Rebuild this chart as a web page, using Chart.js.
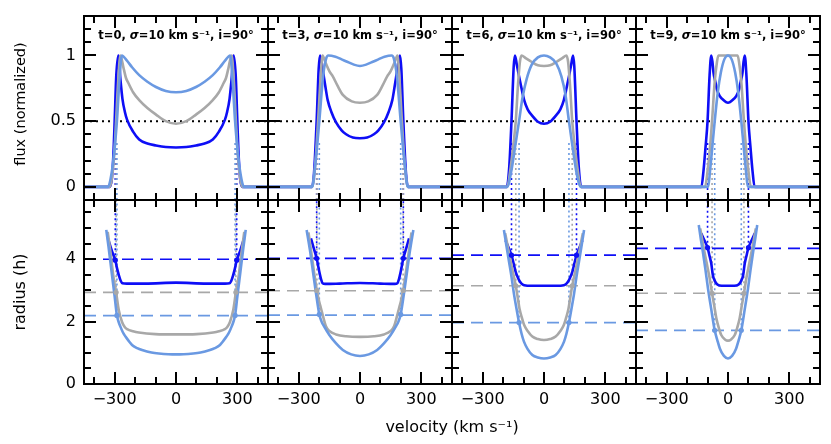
<!DOCTYPE html>
<html><head><meta charset="utf-8">
<script src="https://cdn.jsdelivr.net/npm/chart.js@4.4.1/dist/chart.umd.min.js"></script>
<style>
html,body{margin:0;padding:0;background:#fff;}
#wrap{position:relative;width:831px;height:444px;overflow:hidden;background:#fff;}
#wrap canvas{position:absolute;left:0;top:0;}
</style></head><body><div id="wrap">
<canvas id="c0" width="831" height="444"></canvas>
<canvas id="c1" width="831" height="444"></canvas>
<canvas id="c2" width="831" height="444"></canvas>
<canvas id="c3" width="831" height="444"></canvas>
<canvas id="c4" width="831" height="444"></canvas>
<canvas id="c5" width="831" height="444"></canvas>
<canvas id="c6" width="831" height="444"></canvas>
<canvas id="c7" width="831" height="444"></canvas>
</div>
<script>
// ---------- panel parameters ----------
const times = [0, 3, 6, 9];
const sigma = 10;
const incl = 90;

// ---------- axis ticks ----------
const xMajorTicks = [-300, 0, 300];
const xMinorTicks = [-400, -200, -100, 100, 200, 400];
const fluxMajorTicks = [0, 0.5, 1];
const fluxMinorTicks = [0.1, 0.2, 0.3, 0.4, 0.6, 0.7, 0.8, 0.9, 1.1, 1.2];
const radMajorTicks = [0, 2, 4];
const radMinorTicks = [0.5, 1, 1.5, 2.5, 3, 3.5, 4.5, 5, 5.5];
const xTickLabels = [-300, 0, 300];
const fluxTickLabels = [0, 0.5, 1];
const radTickLabels = [0, 2, 4];
const halfMax = 0.5;

// ---------- t=0 ----------
const fluxV_t0_blue = [-450,-324,-314,-306,-300,-292,-282,-272,-262,-250,-239,-210,-180,-140,-98,-50,0,50,98,140,180,210,239,250,262,272,282,292,300,306,314,324,450];
const flux_t0_blue  = [0,0,0.06,0.25,0.5,0.85,1,0.82,0.67,0.57,0.51,0.42,0.36,0.33,0.315,0.303,0.3,0.303,0.315,0.33,0.36,0.42,0.51,0.57,0.67,0.82,1,0.85,0.5,0.25,0.06,0,0];
const fluxV_t0_gray = [-450,-326,-314,-302,-293,-283,-272,-256,-245,-233,-210,-180,-140,-98,-50,0,50,98,140,180,210,233,245,256,272,283,293,302,314,326,450];
const flux_t0_gray  = [0,0,0.06,0.25,0.5,0.8,1,0.9,0.83,0.79,0.72,0.66,0.6,0.55,0.5,0.48,0.5,0.55,0.6,0.66,0.72,0.79,0.83,0.9,1,0.8,0.5,0.25,0.06,0,0];
const fluxV_t0_light = [-450,-332,-320,-305,-289,-277,-265,-240,-215,-180,-140,-98,-50,0,50,98,140,180,215,240,265,277,289,305,320,332,450];
const flux_t0_light  = [0,0,0.06,0.22,0.5,0.8,1,0.96,0.91,0.85,0.8,0.76,0.73,0.72,0.73,0.76,0.8,0.85,0.91,0.96,1,0.8,0.5,0.22,0.06,0,0];
const radV_t0_blue = [-333,-320,-310,-297,-288,-280,-270,-262,-240,-150,0,150,240,262,270,280,288,297,310,320,333];
const rad_t0_blue  = [4.67,4.4,4.2,3.97,3.7,3.5,3.3,3.23,3.22,3.22,3.25,3.22,3.22,3.23,3.3,3.5,3.7,3.97,4.2,4.4,4.67];
const radV_t0_gray = [-334,-320,-305,-293,-280,-264,-250,-239,-210,-182,-101,0,101,182,210,239,250,264,280,293,305,320,334];
const rad_t0_gray  = [4.88,4.2,3.4,2.94,2.37,1.99,1.82,1.76,1.69,1.65,1.6,1.59,1.6,1.65,1.69,1.76,1.82,1.99,2.37,2.94,3.4,4.2,4.88];
const radV_t0_light = [-341,-330,-315,-300,-289,-280,-272,-260,-247,-230,-215,-190,-166,-120,-84,0,84,120,166,190,215,230,247,260,272,280,289,300,315,330,341];
const rad_t0_light  = [4.94,4.4,3.6,2.8,2.2,1.98,1.84,1.66,1.52,1.37,1.25,1.15,1.09,1.01,0.98,0.95,0.98,1.01,1.09,1.15,1.25,1.37,1.52,1.66,1.84,1.98,2.2,2.8,3.6,4.4,4.94];
const halfV_t0 = [297, 293, 289];      // blue, gray, light
const halfR_t0 = [3.97, 2.94, 2.2];
const ringR_t0 = [4.0, 2.94, 2.19];

// ---------- t=3 ----------
const fluxV_t3_blue = [-450,-235,-225,-212,-202,-196,-188,-180,-168,-158,-140,-117,-90,-68,-35,0,35,68,90,117,140,158,168,180,188,196,202,212,225,235,450];
const flux_t3_blue  = [0,0,0.1,0.5,0.9,1,0.95,0.87,0.75,0.66,0.57,0.49,0.43,0.4,0.375,0.37,0.375,0.4,0.43,0.49,0.57,0.66,0.75,0.87,0.95,1,0.9,0.5,0.1,0,0];
const fluxV_t3_gray = [-450,-234,-220,-205,-192,-183,-170,-150,-133,-110,-84,-40,0,40,84,110,133,150,170,183,192,205,220,234,450];
const flux_t3_gray  = [0,0,0.15,0.5,0.85,1,0.95,0.88,0.84,0.77,0.7,0.65,0.64,0.65,0.7,0.77,0.84,0.88,0.95,1,0.85,0.5,0.15,0,0];
const fluxV_t3_light = [-450,-234,-220,-199,-180,-165,-155,-120,-90,-60,-30,0,30,60,90,120,155,165,180,199,220,234,450];
const flux_t3_light  = [0,0,0.15,0.5,0.85,0.98,1,0.99,0.97,0.95,0.93,0.92,0.93,0.95,0.97,0.99,1,0.98,0.85,0.5,0.15,0,0];
const radV_t3_blue = [-240,-226,-212,-199,-190,-183,-170,-100,0,100,170,183,190,199,212,226,240];
const rad_t3_blue  = [4.67,4.35,4.03,3.6,3.35,3.23,3.21,3.22,3.24,3.22,3.21,3.23,3.35,3.6,4.03,4.35,4.67];
const radV_t3_gray = [-252,-240,-225,-211,-200,-191,-180,-166,-150,-117,-68,0,68,117,150,166,180,191,200,211,225,240,252];
const rad_t3_gray  = [4.86,4.3,3.6,3.0,2.65,2.43,2.15,1.84,1.7,1.59,1.53,1.51,1.53,1.59,1.7,1.84,2.15,2.43,2.65,3.0,3.6,4.3,4.86];
const radV_t3_light = [-261,-245,-230,-215,-199,-188,-175,-150,-117,-84,-43,0,43,84,117,150,175,188,199,215,230,245,261];
const rad_t3_light  = [4.94,4.3,3.6,2.9,2.23,2.0,1.84,1.57,1.3,1.09,0.95,0.9,0.95,1.09,1.3,1.57,1.84,2.0,2.23,2.9,3.6,4.3,4.94];
const halfV_t3 = [212, 211, 199];
const halfR_t3 = [4.03, 3.0, 2.23];
const ringR_t3 = [4.03, 2.99, 2.21];

// ---------- t=6 ----------
const fluxV_t6_blue = [-450,-182,-170,-159,-148,-142,-133,-122,-110,-97,-80,-57,-30,0,30,57,80,97,110,122,133,142,148,159,170,182,450];
const flux_t6_blue  = [0,0,0.15,0.5,0.92,1,0.93,0.84,0.75,0.66,0.59,0.54,0.495,0.48,0.495,0.54,0.59,0.66,0.75,0.84,0.93,1,0.92,0.5,0.15,0,0];
const fluxV_t6_gray = [-450,-180,-163,-149,-138,-127,-118,-110,-90,-60,-30,0,30,60,90,110,118,127,138,149,163,180,450];
const flux_t6_gray  = [0,0,0.15,0.33,0.5,0.78,0.95,1,0.98,0.95,0.925,0.92,0.925,0.95,0.98,1,0.95,0.78,0.5,0.33,0.15,0,0];
const fluxV_t6_light = [-450,-180,-160,-140,-122,-105,-85,-60,-30,0,30,60,85,105,122,140,160,180,450];
const flux_t6_light  = [0,0,0.12,0.32,0.5,0.68,0.82,0.93,0.985,1,0.985,0.94,0.84,0.7,0.5,0.3,0.1,0,0];
const radV_t6_blue = [-188,-175,-159,-148,-139,-130,-122,-110,-97,-60,0,60,97,110,122,130,139,148,159,175,188];
const rad_t6_blue  = [4.61,4.4,4.13,3.85,3.6,3.45,3.33,3.22,3.17,3.15,3.15,3.15,3.17,3.22,3.33,3.45,3.6,3.85,4.13,4.4,4.61];
const radV_t6_gray = [-190,-174,-156,-138,-128,-120,-108,-97,-80,-57,-30,0,30,57,80,97,108,120,128,138,156,174,190];
const rad_t6_gray  = [4.83,4.3,3.7,3.15,2.75,2.42,2.12,1.89,1.7,1.52,1.44,1.41,1.44,1.52,1.7,1.89,2.12,2.42,2.75,3.15,3.7,4.3,4.83];
const radV_t6_light = [-196,-183,-171,-158,-146,-134,-122,-110,-98,-80,-57,-30,0,30,57,80,98,110,122,134,146,158,171,183,196];
const rad_t6_light  = [4.94,4.4,3.92,3.4,2.85,2.4,1.97,1.62,1.36,1.12,0.93,0.85,0.82,0.85,0.93,1.12,1.36,1.62,1.97,2.4,2.85,3.4,3.92,4.4,4.94];
const halfV_t6 = [159, 138, 122];
const halfR_t6 = [4.13, 3.15, 1.97];
const ringR_t6 = [4.13, 3.15, 1.97];

// ---------- t=9 ----------
const fluxV_t9_blue = [-450,-130,-120,-110,-100,-90,-82,-76,-71,-62,-54,-40,-29,0,29,40,54,62,71,76,82,90,100,110,120,130,450];
const flux_t9_blue  = [0,0,0.12,0.3,0.5,0.85,1,0.95,0.87,0.8,0.74,0.69,0.67,0.64,0.67,0.69,0.74,0.8,0.87,0.95,1,0.85,0.5,0.3,0.12,0,0];
const fluxV_t9_gray = [-450,-112,-100,-88,-78,-65,-54,-47,0,47,54,65,78,88,100,112,450];
const flux_t9_gray  = [0,0,0.12,0.3,0.5,0.8,0.95,1,1,1,0.95,0.8,0.5,0.3,0.12,0,0];
const fluxV_t9_light = [-450,-97,-88,-77,-65,-50,-35,-18,0,18,35,50,65,77,88,97,450];
const flux_t9_light  = [0,0,0.12,0.3,0.5,0.72,0.87,0.97,1,0.97,0.87,0.72,0.5,0.3,0.12,0,0];
const radV_t9_blue = [-131,-115,-100,-90,-82,-74,-64,-52,-30,0,30,52,64,74,82,90,100,115,131];
const rad_t9_blue  = [4.83,4.6,4.37,4.1,3.87,3.49,3.3,3.19,3.15,3.15,3.15,3.19,3.3,3.49,3.87,4.1,4.37,4.6,4.83];
const radV_t9_gray = [-136,-120,-105,-90,-78,-67,-57,-45,-33,-15,0,15,33,45,57,67,78,90,105,120,136];
const rad_t9_gray  = [4.99,4.4,3.9,3.4,2.91,2.5,2.11,1.8,1.57,1.43,1.39,1.43,1.57,1.8,2.11,2.5,2.91,3.4,3.9,4.4,4.99];
const radV_t9_light = [-143,-133,-123,-110,-98,-82,-65,-52,-40,-20,0,20,40,52,65,82,98,110,123,133,143];
const rad_t9_light  = [5.1,4.65,4.24,3.65,3.07,2.4,1.72,1.4,1.14,0.9,0.82,0.9,1.14,1.4,1.72,2.4,3.07,3.65,4.24,4.65,5.1];
const halfV_t9 = [100, 78, 65];
const halfR_t9 = [4.37, 2.91, 1.72];
const ringR_t9 = [4.35, 2.91, 1.72];

// ---------- styling ----------
const COL = ['rgb(14,14,246)', 'rgb(168,168,168)', 'rgb(106,153,226)'];
const FONT = '"DejaVu Sans", sans-serif';
const PANEL_W = 184, LEFT0 = 84;
const TOP_ROW = [16, 200], BOT_ROW = [200, 384];

function pts(xs, ys) { return xs.map((x, i) => ({x: x, y: ys[i]})); }

function curve(xs, ys, c, order) {
  return {data: pts(xs, ys), showLine: true, borderColor: COL[c], borderWidth: 2.6,
          pointRadius: 0, cubicInterpolationMode: 'monotone', order: order, fill: false};
}
function seg(x0, y0, x1, y1, color, dash, w, order) {
  return {data: [{x: x0, y: y0}, {x: x1, y: y1}], showLine: true, borderColor: color,
          borderWidth: w, borderDash: dash, pointRadius: 0, order: order, fill: false};
}

const framePlugin = {
  id: 'frame',
  afterDraw(chart, args, o) {
    const ctx = chart.ctx, a = chart.chartArea;
    const xs = chart.scales.x, ys = chart.scales.y;
    ctx.save();
    ctx.strokeStyle = '#000'; ctx.lineWidth = 2; ctx.lineCap = 'butt';
    ctx.beginPath();
    const xt = (v, L) => { const p = Math.round(xs.getPixelForValue(v)); ctx.moveTo(p, a.bottom); ctx.lineTo(p, a.bottom - L); ctx.moveTo(p, a.top); ctx.lineTo(p, a.top + L); };
    const yt = (v, L) => { const p = Math.round(ys.getPixelForValue(v)); ctx.moveTo(a.left, p); ctx.lineTo(a.left + L, p); ctx.moveTo(a.right, p); ctx.lineTo(a.right - L, p); };
    xMajorTicks.forEach(v => xt(v, 12));
    xMinorTicks.forEach(v => xt(v, 7));
    o.yMajor.forEach(v => yt(v, 12));
    o.yMinor.forEach(v => yt(v, 7));
    ctx.stroke();
    ctx.strokeRect(a.left, a.top, a.right - a.left, a.bottom - a.top);
    ctx.fillStyle = '#000';
    if (o.col === 0) {
      ctx.font = '16px ' + FONT; ctx.textAlign = 'right'; ctx.textBaseline = 'middle';
      o.yLabels.forEach(v => ctx.fillText(String(v), a.left - 8, ys.getPixelForValue(v)));
    }
    if (o.row === 1) {
      ctx.font = '16px ' + FONT; ctx.textAlign = 'center'; ctx.textBaseline = 'middle';
      xTickLabels.forEach(v => ctx.fillText(String(v).replace('-', '\u2212'), xs.getPixelForValue(v), 400));
    }
    if (o.row === 0) {
      const fs = '11.5px ';
      const parts = [['t=' + o.t + ', ', 'bold ' + fs + FONT], ['\u03c3', 'italic bold ' + fs + FONT],
                     ['=' + sigma + ' km s\u207b\u00b9, i=' + incl + '\u00b0', 'bold ' + fs + FONT]];
      let w = 0;
      parts.forEach(p => { ctx.font = p[1]; w += ctx.measureText(p[0]).width; });
      let x = (a.left + a.right) / 2 - w / 2;
      ctx.textAlign = 'left'; ctx.textBaseline = 'middle';
      parts.forEach(p => { ctx.font = p[1]; ctx.fillText(p[0], x, 36); x += ctx.measureText(p[0]).width; });
    }
    if (o.col === 0) {
      ctx.font = (o.row === 0 ? '14.5px ' : '16px ') + FONT; ctx.textAlign = 'center'; ctx.textBaseline = 'middle';
      ctx.save(); ctx.translate(21, (a.top + a.bottom) / 2 - (o.row === 0 ? 4 : 0)); ctx.rotate(-Math.PI / 2);
      ctx.fillText(o.row === 0 ? 'flux (normalized)' : 'radius (h)', 0, 0);
      ctx.restore();
    }
    if (o.row === 1 && o.col === 1) {
      ctx.font = '16px ' + FONT; ctx.textAlign = 'center'; ctx.textBaseline = 'middle';
      ctx.fillText('velocity (km s\u207b\u00b9)', LEFT0 + 2 * PANEL_W, 428);
    }
    ctx.restore();
  }
};

function makeChart(id, col, row, datasets, ymin, ymax, t) {
  const left = LEFT0 + col * PANEL_W;
  const [top, bottom] = row === 0 ? TOP_ROW : BOT_ROW;
  return new Chart(document.getElementById(id), {
    type: 'scatter',
    data: {datasets: datasets},
    options: {
      responsive: false, animation: false, devicePixelRatio: 1, events: [],
      layout: {padding: {left: left, right: 831 - left - PANEL_W, top: top, bottom: 444 - bottom}},
      scales: {
        x: {type: 'linear', min: -450, max: 450, display: false},
        y: {type: 'linear', min: ymin, max: ymax, display: false}
      },
      plugins: {
        legend: {display: false}, tooltip: {enabled: false},
        frame: {col: col, row: row, t: t,
                yMajor: row === 0 ? fluxMajorTicks : radMajorTicks,
                yMinor: row === 0 ? fluxMinorTicks : radMinorTicks,
                yLabels: row === 0 ? fluxTickLabels : radTickLabels}
      }
    },
    plugins: [framePlugin]
  });
}

function fluxPanel(id, col, t, fb, ffb, fg, ffg, fl, ffl, hv) {
  const ds = [];
  ds.push(curve(fl, ffl, 2, 1));
  ds.push(curve(fg, ffg, 1, 2));
  ds.push(curve(fb, ffb, 0, 3));
  ds.push(seg(-450, halfMax, 450, halfMax, '#000', [2, 4], 2, 4));
  for (let c = 2; c >= 0; c--) {
    ds.push(seg(-hv[c], -0.1, -hv[c], 0.35, COL[c], [2, 3], 1.6, 5));
    ds.push(seg(hv[c], -0.1, hv[c], 0.35, COL[c], [2, 3], 1.6, 5));
  }
  makeChart(id, col, 0, ds, -0.1, 1.3, t);
}

function radiusPanel(id, col, t, rb, rrb, rg, rrg, rl, rrl, hv, hr, ring) {
  const ds = [];
  for (let c = 0; c < 3; c++) {
    ds.push({data: [{x: -hv[c], y: hr[c]}, {x: hv[c], y: hr[c]}], showLine: false,
             pointRadius: 2.6, pointBackgroundColor: COL[c], pointBorderColor: COL[c], pointBorderWidth: 0, order: 0});
  }
  ds.push(curve(rl, rrl, 2, 1));
  ds.push(curve(rg, rrg, 1, 2));
  ds.push(curve(rb, rrb, 0, 3));
  for (let c = 0; c < 3; c++) ds.push(seg(-450, ring[c], 450, ring[c], COL[c], [12, 7], 1.7, 4));
  for (let c = 2; c >= 0; c--) {
    ds.push(seg(-hv[c], hr[c], -hv[c], 5.9, COL[c], [2, 3], 1.6, 5));
    ds.push(seg(hv[c], hr[c], hv[c], 5.9, COL[c], [2, 3], 1.6, 5));
  }
  makeChart(id, col, 1, ds, 0, 5.9, t);
}

fluxPanel('c0', 0, times[0], fluxV_t0_blue, flux_t0_blue, fluxV_t0_gray, flux_t0_gray, fluxV_t0_light, flux_t0_light, halfV_t0);
fluxPanel('c1', 1, times[1], fluxV_t3_blue, flux_t3_blue, fluxV_t3_gray, flux_t3_gray, fluxV_t3_light, flux_t3_light, halfV_t3);
fluxPanel('c2', 2, times[2], fluxV_t6_blue, flux_t6_blue, fluxV_t6_gray, flux_t6_gray, fluxV_t6_light, flux_t6_light, halfV_t6);
fluxPanel('c3', 3, times[3], fluxV_t9_blue, flux_t9_blue, fluxV_t9_gray, flux_t9_gray, fluxV_t9_light, flux_t9_light, halfV_t9);
radiusPanel('c4', 0, times[0], radV_t0_blue, rad_t0_blue, radV_t0_gray, rad_t0_gray, radV_t0_light, rad_t0_light, halfV_t0, halfR_t0, ringR_t0);
radiusPanel('c5', 1, times[1], radV_t3_blue, rad_t3_blue, radV_t3_gray, rad_t3_gray, radV_t3_light, rad_t3_light, halfV_t3, halfR_t3, ringR_t3);
radiusPanel('c6', 2, times[2], radV_t6_blue, rad_t6_blue, radV_t6_gray, rad_t6_gray, radV_t6_light, rad_t6_light, halfV_t6, halfR_t6, ringR_t6);
radiusPanel('c7', 3, times[3], radV_t9_blue, rad_t9_blue, radV_t9_gray, rad_t9_gray, radV_t9_light, rad_t9_light, halfV_t9, halfR_t9, ringR_t9);
</script>
</body></html>
